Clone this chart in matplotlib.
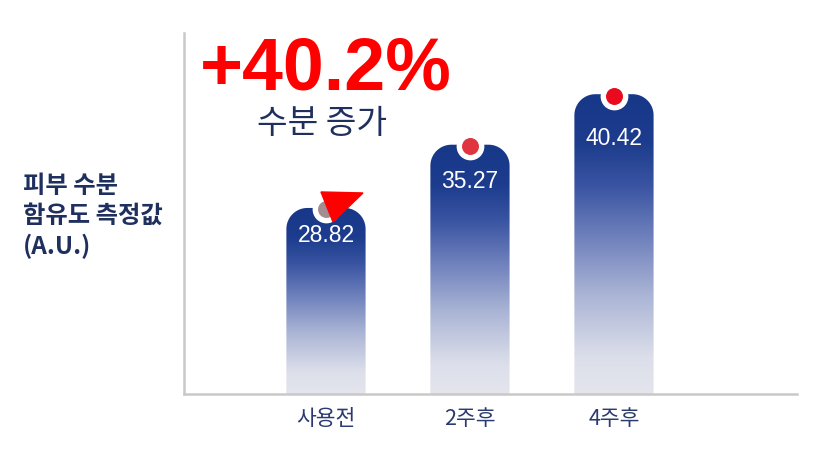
import numpy as np
import matplotlib
matplotlib.use("Agg")
import matplotlib.pyplot as plt
from matplotlib.patches import PathPatch, Polygon
from matplotlib.path import Path
from matplotlib.colors import LinearSegmentedColormap

categories = ["사용전", "2주후", "4주후"]
values = [28.82, 35.27, 40.42]
value_labels = ["28.82", "35.27", "40.42"]
dot_colors = ["#a38d93", "#e0343e", "#ea0a1e"]
headline = "+40.2%"
subline = "수분 증가"
ylabel = "피부 수분\n함유도 측정값\n(A.U.)"

NAVY = "#1f2f5e"
plt.rcParams['font.family'] = ['Noto Sans CJK KR', 'DejaVu Sans']

fig = plt.figure(figsize=(8.14, 4.60), dpi=100)
ax = fig.add_axes([184/814, 65/460, (797-184)/814, (395-34)/460])
ymin, ymax = 9.85, 46.66
ax.set_xlim(-0.986, 3.271)
ax.set_ylim(ymin, ymax)
x = np.arange(len(values))
width = 0.55

for s in ["top", "right"]:
    ax.spines[s].set_visible(False)
for s in ["left", "bottom"]:
    ax.spines[s].set_color("#c9c9c9")
    ax.spines[s].set_linewidth(1.8)
ax.tick_params(axis="y", left=False, labelleft=False)
ax.tick_params(axis="x", bottom=False, pad=6)
ax.set_xticks(x)
ax.set_xticklabels(categories, fontsize=15.5, color="#2b3a70", fontweight="medium")

cmap = LinearSegmentedColormap.from_list("g", [
    (0.0, "#e4e5ed"), (0.12, "#dcdfea"), (0.33, "#aab4d5"),
    (0.52, "#7082bd"), (0.7, "#3853a1"), (0.84, "#1d3c8d"), (1.0, "#173789")])

# pixel scales
p0 = ax.transData.transform((0, 0))
px_x = ax.transData.transform((1, 0))[0] - p0[0]
px_y = ax.transData.transform((0, 1))[1] - p0[1]
r_px = 21
rx, ry = r_px / px_x, r_px / px_y

grad = np.linspace(0, 1, 256).reshape(-1, 1)
for i, (xi, v) in enumerate(zip(x, values)):
    x0, x1 = xi - width/2, xi + width/2
    t = np.linspace(np.pi, np.pi/2, 20)
    left_arc = np.column_stack([x0 + rx + rx*np.cos(t), v - ry + ry*np.sin(t)])
    t2 = np.linspace(np.pi/2, 0, 20)
    right_arc = np.column_stack([x1 - rx + rx*np.cos(t2), v - ry + ry*np.sin(t2)])
    verts = np.vstack([[x0, ymin - 1], left_arc, right_arc, [x1, ymin - 1], [x0, ymin - 1]])
    path = Path(verts, closed=True)
    patch = PathPatch(path, facecolor="none", edgecolor="none")
    ax.add_patch(patch)
    im = ax.imshow(grad, cmap=cmap, aspect="auto", origin="lower",
                   extent=[x0, x1, ymin, v], zorder=2)
    im.set_clip_path(patch)
    ax.scatter([xi], [v - 1.5/px_y], s=360, color="white", zorder=3)
    ax.scatter([xi], [v - 1.5/px_y], s=125, color=dot_colors[i], zorder=4)
    ax.text(xi, ymin + 0.855*(v - ymin), value_labels[i], color="white",
            fontsize=16.5, ha="center", va="center", zorder=5,
            family=["Liberation Sans", "DejaVu Sans"])

# red pointer triangle near first bar (pixel offsets from first bar top)
tri_off = np.array([[-5, 16], [37, 15], [7, -14]])
base = ax.transData.transform((x[0], values[0]))
tri_data = ax.transData.inverted().transform(base + tri_off)
ax.add_patch(Polygon(tri_data, closed=True, color="#ff0000", zorder=6, clip_on=False))

fig.text(200/814, 1 - 70/460, headline, color="#ff0000", fontsize=53,
         fontweight="bold", ha="left", va="center",
         family=["Liberation Sans", "DejaVu Sans"])
fig.text(322/814, 1 - 123/460, subline, color=NAVY, fontsize=24,
         ha="center", va="center")
fig.text(23/814, 1 - 217/460, ylabel, color=NAVY, fontsize=17.5,
         fontweight="bold", ha="left", va="center", linespacing=1.3)

fig.savefig("out.png", dpi=100)
